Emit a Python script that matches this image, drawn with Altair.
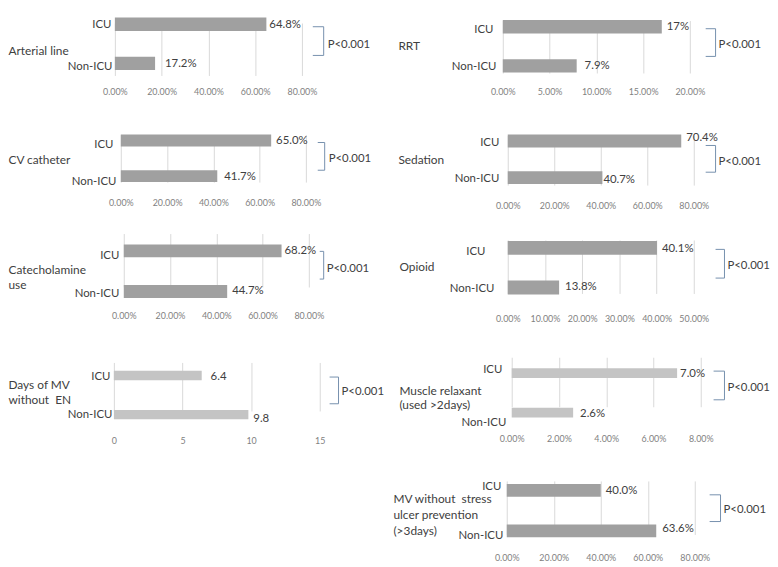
import altair as alt
import pandas as pd

# ---------------- data ----------------
NB = "\u00a0"
groups = ["ICU", "Non-ICU"]
panel_titles = [
    ["Arterial line"],
    ["CV catheter"],
    ["Catecholamine", "use"],
    ["Days of MV", "without" + NB + " EN"],
    ["RRT"],
    ["Sedation"],
    ["Opioid"],
    ["Muscle relaxant", "(used >2days)"],
    ["MV without" + NB + " stress", "ulcer prevention", "(>3days)"],
]
icu_values = [64.8, 65.0, 68.2, 6.4, 17.0, 74.6, 40.1, 7.0, 40.0]
nonicu_values = [17.2, 41.7, 44.7, 9.8, 7.9, 40.7, 13.8, 2.6, 63.6]
icu_labels = ["64.8%", "65.0%", "68.2%", "6.4", "17%", "70.4%", "40.1%", "7.0%", "40.0%"]
nonicu_labels = ["17.2%", "41.7%", "44.7%", "9.8", "7.9%", "40.7%", "13.8%", "2.6%", "63.6%"]
axis_max = [80, 80, 80, 15, 20, 80, 50, 8, 80]
axis_step = [20, 20, 20, 5, 5, 20, 10, 2, 20]
percent_axis = [True, True, True, False, True, True, True, True, True]
light_bars = [False, False, False, True, False, False, False, True, False]
p_text = "P<0.001"

# ---------------- styling / layout ----------------
FONT = "Lato"
DARK = "#a0a0a0"
LIGHT = "#c4c4c4"
GRID = "#d9d9d9"
TICK = "#7f7f7f"
TXT = "#404040"
BR = "#7590ad"
B = 13.6        # estimated height of the x-axis label strip
HSPACE = 9
YSHIFT = 8      # page margin

# x values relative to the column origin; y values are absolute picture rows
layout = [
    dict(xoff=1, w=189, top=0, bot=80, c1=21.5, c2=61, bw=13.5, tx=-107, ty=48, lh=15,
         lp=(3, 2), lo=(1, 4), vdx=(3, 10), vdy=(1, 1), br=(212, 201, 24, 53), pt=(216, 43)),
    dict(xoff=7, w=187, top=120, bot=192, c1=138, c2=174, bw=12, tx=-107, ty=157, lh=15,
         lp=(1, -2), lo=(5, 6), vdx=(5, 7), vdy=(1, 1), br=(213, 206, 140, 168), pt=(217, 157)),
    dict(xoff=10, w=187, top=222, bot=305, c1=248.5, c2=289.5, bw=13, tx=-107, ty=267, lh=16,
         lp=(-5, -5), lo=(5, 3), vdx=(3, 5), vdy=(0, 0), br=(212, 208, 249, 277), pt=(215, 267)),
    dict(xoff=0, w=208, top=348, bot=430, c1=373.5, c2=413, bw=9.5, tx=-107, ty=383, lh=15,
         lp=(4, 2), lo=(1, 0), vdx=(9, 5), vdy=(1, 4), br=(227, 218, 375, 402), pt=(230, 390)),
    dict(xoff=0, w=189, top=0, bot=80, c1=24, c2=63.5, bw=13.5, tx=-106, ty=43, lh=15,
         lp=(10, 7), lo=(3, 1), vdx=(5, 8), vdy=(0, 0), br=(215, 205, 26, 54), pt=(218, 43)),
    dict(xoff=5, w=188, top=120, bot=195, c1=138.5, c2=175.5, bw=13, tx=-106, ty=157, lh=15,
         lp=(4, 4), lo=(2, 1), vdx=(5, 1), vdy=(-3, 2), br=(215, 205, 143, 170), pt=(218, 160)),
    dict(xoff=5, w=188, top=222, bot=308, c1=245.5, c2=285.5, bw=14, tx=-105, ty=264, lh=15,
         lp=(18, 9), lo=(4, 2), vdx=(5, 6), vdy=(1, 0), br=(224, 215, 247, 276), pt=(227, 264)),
    dict(xoff=9, w=191, top=343, bot=428, c1=371, c2=411, bw=10, tx=-105, ty=389, lh=13.5,
         lp=(1, -3), lo=(-3, 10), vdx=(3, 7), vdy=(1, 1), br=(224, 213, 369, 398), pt=(227, 386)),
    dict(xoff=4, w=190, top=468, bot=547, c1=488.5, c2=529.5, bw=13, tx=-111, ty=497, lh=16,
         lp=(2, 0), lo=(-3, 5), vdx=(5, 6), vdy=(1, -2), br=(220, 209, 493, 520), pt=(223, 508)),
]


def cond(a, b):
    return {"condition": {"test": "datum.value === 'ICU'", "value": a}, "value": b}


def geom(L):
    top = max(0, L["top"] - YSHIFT)
    bot = L["bot"] - YSHIFT
    return top, bot


def panel(i):
    L = layout[i]
    top, bot = geom(L)
    H = bot - top

    def rel(y):
        return y - YSHIFT - top

    df = pd.DataFrame({
        "group": groups,
        "value": [icu_values[i], nonicu_values[i]],
        "label": [icu_labels[i], nonicu_labels[i]],
    })
    ticks = list(range(0, axis_max[i] + 1, axis_step[i]))
    lexpr = "format(datum.value, '.2f') + '%'" if percent_axis[i] else "format(datum.value, 'd')"
    x0 = L["xoff"]
    x1 = x0 + L["w"]
    c1, c2, bw = rel(L["c1"]), rel(L["c2"]), L["bw"]
    step = c2 - c1
    yscale = alt.Scale(domain=groups, range=[c1 - bw / 2, c2 + bw / 2],
                       paddingInner=1 - bw / step, paddingOuter=0)
    xscale = alt.Scale(domain=[0, axis_max[i]], range=[x0, x1], nice=False, zero=True)
    xaxis = alt.Axis(values=ticks, tickCount=len(ticks) + 2, labelExpr=lexpr, title=None,
                     grid=True, gridColor=GRID, gridWidth=1, domain=False, ticks=False,
                     tickSize=0, labelPadding=5, labelFontSize=9, labelColor=TICK,
                     labelFont=FONT, labelFlush=False, labelOverlap=False)
    title = panel_titles[i] if len(panel_titles[i]) > 1 else panel_titles[i][0]
    yaxis = alt.Axis(title=title, titleAngle=0, titleAlign="left", titleBaseline="middle",
                     titleX=L["tx"], titleY=rel(L["ty"]), titleFontSize=12,
                     titleFontWeight="normal", titleColor=TXT, titleLineHeight=L["lh"],
                     titleFont=FONT, labelFontSize=11.5, labelColor=TXT, labelFont=FONT,
                     domain=False, ticks=False, tickSize=0, grid=False,
                     labelPadding=cond(*L["lp"]), labelOffset=cond(*L["lo"]))
    color = LIGHT if light_bars[i] else DARK
    bars = alt.Chart(df).mark_bar(color=color).encode(
        x=alt.X("value:Q", scale=xscale, axis=xaxis),
        y=alt.Y("group:N", scale=yscale, axis=yaxis),
    )
    layers = [bars]
    for k, g in enumerate(groups):
        layers.append(
            alt.Chart(df).transform_filter(alt.datum.group == g).mark_text(
                align="left", baseline="middle", dx=L["vdx"][k], dy=L["vdy"][k],
                fontSize=11.5, font=FONT, color=TXT,
            ).encode(x="value:Q", y="group:N", text="label:N")
        )
    one = pd.DataFrame({"k": [0]})
    vx, ax, y1, y2 = L["br"]
    y1, y2 = rel(y1), rel(y2)
    layers.append(alt.Chart(one).mark_rule(color=BR, strokeWidth=1).encode(
        x=alt.value(vx), y=alt.value(y1), y2=alt.value(y2)))
    layers.append(alt.Chart(one).mark_rule(color=BR, strokeWidth=1).encode(
        x=alt.value(ax), x2=alt.value(vx), y=alt.value(y1)))
    layers.append(alt.Chart(one).mark_rule(color=BR, strokeWidth=1).encode(
        x=alt.value(ax), x2=alt.value(vx), y=alt.value(y2)))
    px, py = L["pt"]
    layers.append(alt.Chart(one).mark_text(align="left", baseline="middle", fontSize=11.5,
                                           font=FONT, color=TXT).encode(
        x=alt.value(px), y=alt.value(rel(py)), text=alt.value(p_text)))
    return alt.layer(*layers).properties(width=x1, height=H)


def spacer(h):
    one = pd.DataFrame({"k": [0]})
    return alt.Chart(one).mark_rule(opacity=0, strokeWidth=0).encode(
        x=alt.value(0), y=alt.value(0), y2=alt.value(h)).properties(width=1, height=h)


def column(idx):
    items = []
    prev_bottom = None
    for i in idx:
        top, bot = geom(layout[i])
        if prev_bottom is not None:
            gap = top - prev_bottom
            if gap > 0:
                items.append(spacer(gap))
        items.append(panel(i))
        prev_bottom = bot + B
    return alt.vconcat(*items, spacing=0)


left = column([0, 1, 2, 3])
right = column([4, 5, 6, 7, 8])

chart = alt.hconcat(left, right, spacing=HSPACE).properties(
    padding=0, background="white"
).configure_view(stroke=None)

chart.save("out.html", embed_options={"renderer": "svg", "actions": False})
